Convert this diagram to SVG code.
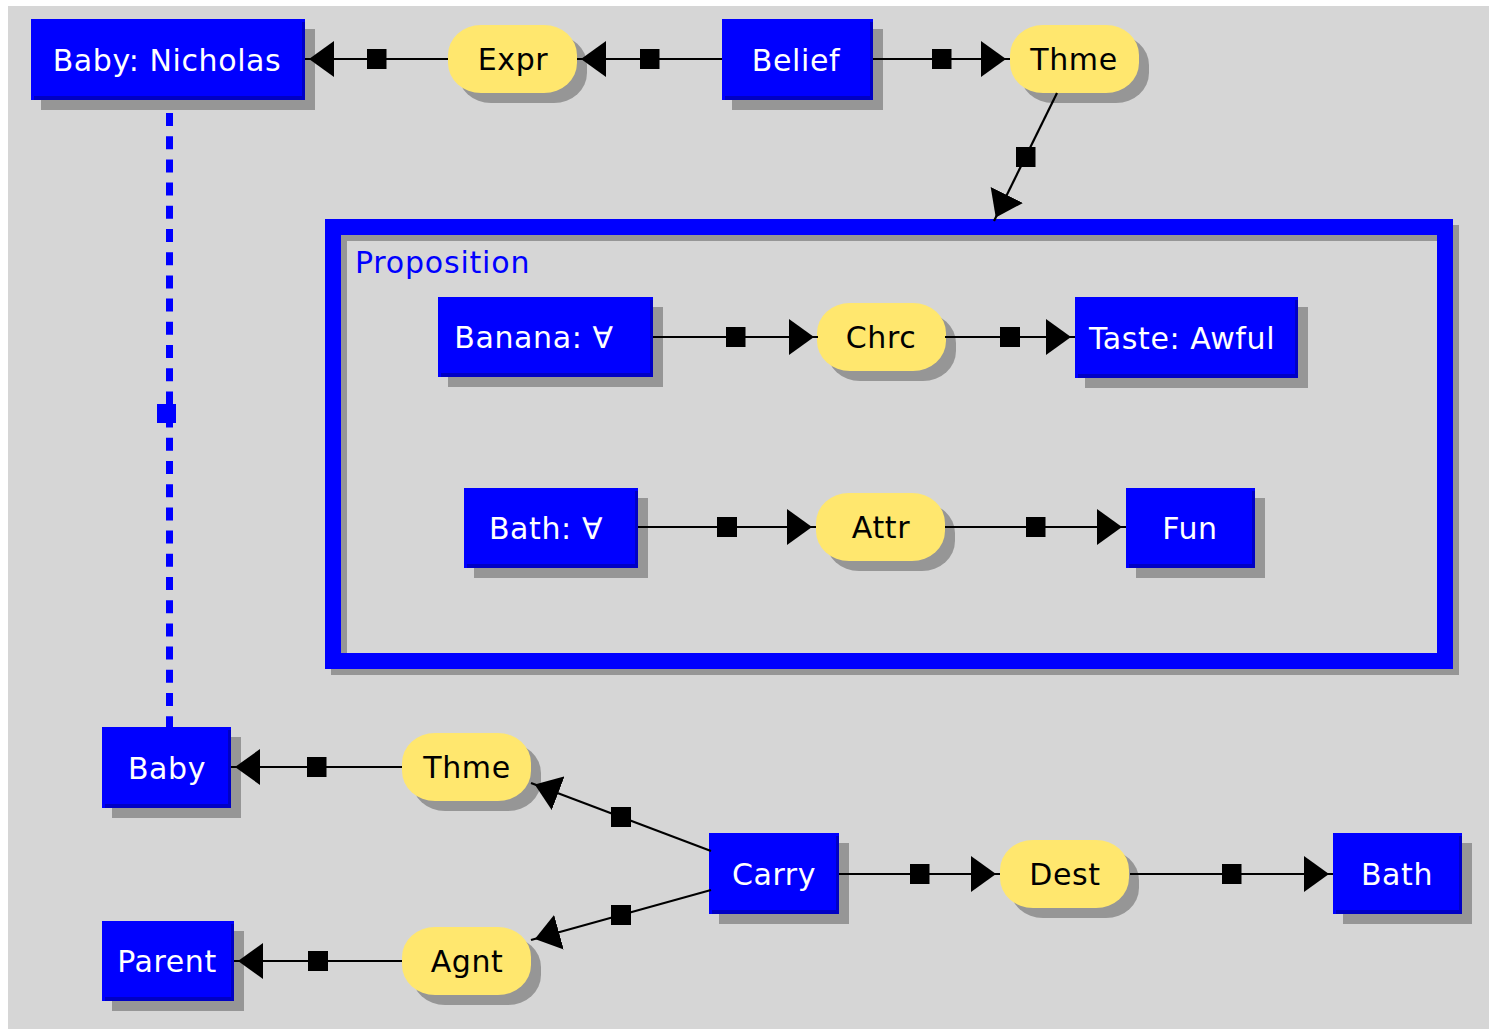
<svg xmlns="http://www.w3.org/2000/svg" width="1491" height="1030" viewBox="0 0 1491 1030">
  <style>
    .page { fill: #ffffff; }
    .bg { fill: #d6d6d6; }
    .shadow { fill: #969696; }
    .box { fill: #0000ff; }
    .edge { fill: #0000c4; }
    .rel { fill: #ffe76e; }
    .lbl { font-family: "DejaVu Sans", "Liberation Sans", sans-serif; font-size: 30px; text-anchor: middle; }
    .box-lbl { fill: #ffffff; }
    .rel-lbl { fill: #000000; }
    .ctx-frame { fill: none; stroke: #0000ff; stroke-width: 16; }
    .ctx-shadow { fill: none; stroke: #969696; stroke-width: 16; }
    .ctx-lbl { font-family: "DejaVu Sans", "Liberation Sans", sans-serif; font-size: 30px; fill: #0000ff; }
    .conn { fill: none; stroke: #000000; stroke-width: 2.2; marker-mid: url(#sq); marker-end: url(#arr); }
    .coref { fill: none; stroke: #0000ff; stroke-width: 7; stroke-dasharray: 13 10.2; }
  </style>
  <defs>
    <!-- arrowhead stops a few pixels short of the target edge -->
    <marker id="arr" markerUnits="userSpaceOnUse" viewBox="0 0 30 36" markerWidth="30" markerHeight="36" refX="29" refY="18" orient="auto">
      <path d="M0,0 L25,18 L0,36 Z" fill="#000000"/>
    </marker>
    <!-- square handle at the middle of each arc -->
    <marker id="sq" markerUnits="userSpaceOnUse" viewBox="0 0 20 20" markerWidth="20" markerHeight="20" refX="10" refY="10" orient="0">
      <rect width="20" height="20" fill="#000000"/>
    </marker>
    <!-- relation oval outline, reused for body and shadow -->
    <rect id="oval" width="129" height="68" rx="33" ry="30"/>
  </defs>

  <rect class="page" width="1491" height="1030"/>
  <rect class="bg" x="8" y="6" width="1481" height="1023"/>

  <!-- Proposition context -->
  <g id="ctx-proposition">
    <rect class="ctx-shadow" x="339" y="233" width="1112" height="434"/>
    <rect class="ctx-frame" x="333" y="227" width="1112" height="434"/>
    <text class="ctx-lbl" x="355" y="273" letter-spacing="0.8">Proposition</text>
  </g>

  <!-- concept boxes -->
  <g id="c-baby-nicholas" transform="translate(31,19)">
    <rect class="shadow" x="10" y="10" width="274" height="81"/>
    <rect class="box" width="274" height="81"/>
    <path class="edge" d="M271,3 H274 V81 H3 V77 H271 Z"/>
    <text class="lbl box-lbl" x="136" y="52" letter-spacing="0.6">Baby: Nicholas</text>
  </g>
  <g id="c-belief" transform="translate(722,19)">
    <rect class="shadow" x="10" y="10" width="151" height="81"/>
    <rect class="box" width="151" height="81"/>
    <path class="edge" d="M148,3 H151 V81 H3 V77 H148 Z"/>
    <text class="lbl box-lbl" x="74" y="52" letter-spacing="0.6">Belief</text>
  </g>
  <g id="c-banana" transform="translate(438,297)">
    <rect class="shadow" x="10" y="10" width="215" height="80"/>
    <rect class="box" width="215" height="80"/>
    <path class="edge" d="M212,3 H215 V80 H3 V76 H212 Z"/>
    <text class="lbl box-lbl" x="96" y="51" letter-spacing="0.6">Banana: ∀</text>
  </g>
  <g id="c-taste-awful" transform="translate(1075,297)">
    <rect class="shadow" x="10" y="10" width="223" height="81"/>
    <rect class="box" width="223" height="81"/>
    <path class="edge" d="M220,3 H223 V81 H3 V77 H220 Z"/>
    <text class="lbl box-lbl" x="107" y="52" letter-spacing="0.6">Taste: Awful</text>
  </g>
  <g id="c-bath-all" transform="translate(464,488)">
    <rect class="shadow" x="10" y="10" width="174" height="80"/>
    <rect class="box" width="174" height="80"/>
    <path class="edge" d="M171,3 H174 V80 H3 V76 H171 Z"/>
    <text class="lbl box-lbl" x="82" y="51" letter-spacing="0.6">Bath: ∀</text>
  </g>
  <g id="c-fun" transform="translate(1126,488)">
    <rect class="shadow" x="10" y="10" width="129" height="80"/>
    <rect class="box" width="129" height="80"/>
    <path class="edge" d="M126,3 H129 V80 H3 V76 H126 Z"/>
    <text class="lbl box-lbl" x="64" y="51" letter-spacing="0.6">Fun</text>
  </g>
  <g id="c-baby" transform="translate(102,727)">
    <rect class="shadow" x="10" y="10" width="129" height="81"/>
    <rect class="box" width="129" height="81"/>
    <path class="edge" d="M126,3 H129 V81 H3 V77 H126 Z"/>
    <text class="lbl box-lbl" x="65" y="52" letter-spacing="0.6">Baby</text>
  </g>
  <g id="c-carry" transform="translate(709,833)">
    <rect class="shadow" x="10" y="10" width="130" height="81"/>
    <rect class="box" width="130" height="81"/>
    <path class="edge" d="M127,3 H130 V81 H3 V77 H127 Z"/>
    <text class="lbl box-lbl" x="65" y="52" letter-spacing="0.6">Carry</text>
  </g>
  <g id="c-bath" transform="translate(1333,833)">
    <rect class="shadow" x="10" y="10" width="129" height="81"/>
    <rect class="box" width="129" height="81"/>
    <path class="edge" d="M126,3 H129 V81 H3 V77 H126 Z"/>
    <text class="lbl box-lbl" x="64" y="52" letter-spacing="0.6">Bath</text>
  </g>
  <g id="c-parent" transform="translate(102,921)">
    <rect class="shadow" x="10" y="10" width="132" height="80"/>
    <rect class="box" width="132" height="80"/>
    <path class="edge" d="M129,3 H132 V80 H3 V76 H129 Z"/>
    <text class="lbl box-lbl" x="65" y="51" letter-spacing="0.6">Parent</text>
  </g>

  <!-- relation ovals -->
  <g id="r-expr" transform="translate(448,25)">
    <use href="#oval" class="shadow" x="10" y="10"/>
    <use href="#oval" class="rel"/>
    <text class="lbl rel-lbl" x="65" y="45" letter-spacing="0.6">Expr</text>
  </g>
  <g id="r-thme-1" transform="translate(1010,25)">
    <use href="#oval" class="shadow" x="10" y="10"/>
    <use href="#oval" class="rel"/>
    <text class="lbl rel-lbl" x="64" y="45" letter-spacing="0.6">Thme</text>
  </g>
  <g id="r-chrc" transform="translate(817,303)">
    <use href="#oval" class="shadow" x="10" y="10"/>
    <use href="#oval" class="rel"/>
    <text class="lbl rel-lbl" x="64" y="45" letter-spacing="0.6">Chrc</text>
  </g>
  <g id="r-attr" transform="translate(816,493)">
    <use href="#oval" class="shadow" x="10" y="10"/>
    <use href="#oval" class="rel"/>
    <text class="lbl rel-lbl" x="65" y="45" letter-spacing="0.6">Attr</text>
  </g>
  <g id="r-thme-2" transform="translate(402,733)">
    <use href="#oval" class="shadow" x="10" y="10"/>
    <use href="#oval" class="rel"/>
    <text class="lbl rel-lbl" x="65" y="45" letter-spacing="0.6">Thme</text>
  </g>
  <g id="r-dest" transform="translate(1000,840)">
    <use href="#oval" class="shadow" x="10" y="10"/>
    <use href="#oval" class="rel"/>
    <text class="lbl rel-lbl" x="65" y="45" letter-spacing="0.6">Dest</text>
  </g>
  <g id="r-agnt" transform="translate(402,927)">
    <use href="#oval" class="shadow" x="10" y="10"/>
    <use href="#oval" class="rel"/>
    <text class="lbl rel-lbl" x="65" y="45" letter-spacing="0.6">Agnt</text>
  </g>

  <!-- arcs: start, midpoint handle, end -->
  <g id="connectors">
    <polyline class="conn" points="448,59 376.5,59 305,59"/>
    <polyline class="conn" points="722,59 649.5,59 577,59"/>
    <polyline class="conn" points="873,59 941.5,59 1010,59"/>
    <polyline class="conn" points="1057,93 1025.5,157 994,221"/>
    <polyline class="conn" points="653,337 735.5,337 818,337"/>
    <polyline class="conn" points="945,337 1010,337 1075,337"/>
    <polyline class="conn" points="638,527 727,527 816,527"/>
    <polyline class="conn" points="945,527 1035.5,527 1126,527"/>
    <polyline class="conn" points="402,767 316.5,767 231,767"/>
    <polyline class="conn" points="711,851 621,817 531,783"/>
    <polyline class="conn" points="711,890 621,915 531,940"/>
    <polyline class="conn" points="402,961 318,961 234,961"/>
    <polyline class="conn" points="839,874 919.5,874 1000,874"/>
    <polyline class="conn" points="1130,874 1231.5,874 1333,874"/>
    <!-- coreference line between Baby: Nicholas and Baby -->
    <line class="coref" x1="169.5" y1="113" x2="169.5" y2="727"/>
    <rect x="157" y="404" width="19" height="19" fill="#0000ff"/>
  </g>
</svg>
